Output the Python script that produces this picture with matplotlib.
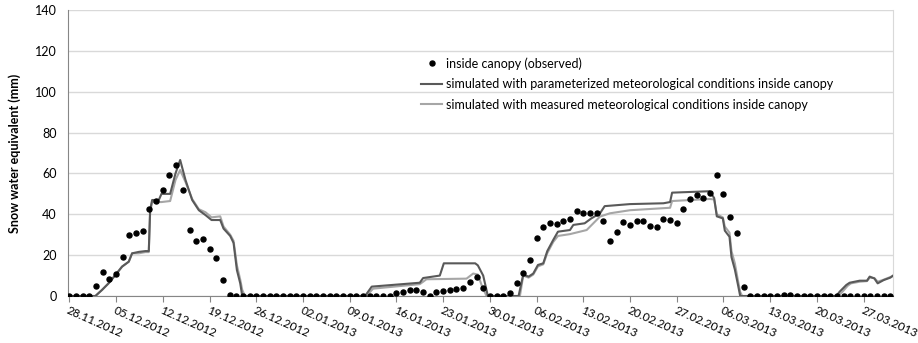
import matplotlib
matplotlib.use("Agg")
import matplotlib.pyplot as plt
import pandas as pd

# daily snow water equivalent inside the canopy, starting 28.11.2012 (mm)
start = pd.Timestamp("2012-11-28")
observed = [0, 0, 0, 0, 4.7, 11.6, 8.3, 10.6, 19.2, 29.9, 31.0, 31.8, 42.4,
            46.7, 51.9, 59.2, 64.3, 51.9, 32.3, 27.1, 27.9, 22.8, 18.4, 7.8, 0.5] \
    + [0] * 24 \
    + [1.3, 2.1, 2.9, 2.9, 2.1, 0.2, 1.8, 2.6, 3.0, 3.6, 4.1, 6.9, 9.1, 3.7] \
    + [0, 0, 0] \
    + [1.6, 6.5, 11.1, 17.8, 28.5, 33.9, 35.7, 35.2, 36.9, 37.5, 41.4, 40.8,
       40.5, 40.5, 36.7, 26.8, 31.5, 36.2, 34.8, 36.7, 36.5, 34.3, 33.8, 37.8,
       37.0, 35.5, 42.4, 47.3, 49.3, 47.8, 50.3, 59.1, 49.9, 38.5, 31.0, 4.6] \
    + [0, 0, 0, 0, 0, 0.5, 0.6] + [0] * 15

# model runs (days since start, SWE in mm)
param_days = [0, 3.9, 4.9, 5.9, 6.9, 7.9, 8.9, 9.4, 10.4, 11.4, 11.9, 12.1, 12.4,
              13.4, 13.8, 15.1, 15.9, 16.6, 17.4, 18.4, 19.4, 20.4, 21.3, 22.6,
              23.1, 24.1, 24.6, 25.1, 25.6, 25.9,
              44.3, 45.3, 52.5, 53.0, 55.5, 56.1, 60.8, 61.2, 62.0, 62.7,
              67.3, 68.0, 68.8, 69.5, 70.2, 71.0, 71.6, 72.5, 73.2, 75.0, 75.5,
              77.2, 78.2, 79.5, 80.2, 84.0, 89.0, 90.0, 90.3, 95.9, 96.6, 97.0,
              97.9, 98.2, 98.9, 99.2, 99.7, 100.2, 100.5,
              114.9, 115.4, 116.4, 116.9, 118.4, 119.5, 119.9, 120.6, 121.1,
              122.0, 123.0, 123.4]
param_swe = [0, 0, 3, 6.3, 10.3, 14.4, 16.8, 20.9, 21.6, 22, 22, 42, 47,
             47, 50, 50, 60, 66.6, 56.8, 47, 42, 39.6, 37.2, 37.2,
             33, 29.4, 26, 12.7, 6.2, 0,
             0, 4.6, 6.5, 8.8, 10, 16, 16, 15, 10, 0,
             0, 10.5, 9.5, 11, 15.2, 16, 22, 27.5, 31.5, 32.3, 34.8,
             35.6, 38, 40.5, 44, 45, 45.4, 46, 50.6, 51.3, 48, 39,
             38, 32, 29, 19, 13, 5, 0,
             0, 2.1, 5.4, 6.5, 7.5, 7.5, 9.5, 8.6, 6.2,
             7.8, 9, 10]

meas_days = [0, 3.9, 4.9, 5.9, 6.9, 7.9, 8.9, 9.4, 10.4, 11.4, 11.9, 12.1, 12.4,
             13.4, 13.8, 15.1, 15.9, 16.6, 17.4, 18.4, 19.4, 20.4, 21.3, 22.6,
             23.1, 24.1, 24.6, 25.1, 25.6, 25.9, 26.3,
             44.5, 45.5, 52.5, 53.5, 59.5, 60.5, 61.2, 61.8, 62.5,
             67.5, 68.0, 68.8, 69.5, 70.2, 71.0, 71.6, 72.5, 73.2, 75.0, 77.5,
             78.5, 79.5, 81.0, 84.0, 89.0, 90.0, 90.3, 95.9, 96.6, 97.0, 97.9,
             98.2, 98.9, 99.2, 99.7, 100.2, 100.5, 100.8,
             115.2, 115.8, 116.6, 117.1, 118.4, 119.5, 119.9, 120.6, 121.1,
             122.0, 123.0, 123.4]
meas_swe = [0, 0, 3, 6.3, 10.3, 14.4, 16.8, 20.9, 20.9, 21.5, 21.5, 41, 46,
            46, 46, 46.5, 56.8, 61.7, 55.8, 47.5, 42.5, 41, 38.5, 39,
            34, 30, 27, 15, 8, 3, 0,
            0, 3.6, 5.8, 8.2, 8.5, 11, 10.5, 5, 0,
            0, 10, 9, 10.5, 14.5, 15.5, 21, 26.5, 29.4, 30.3, 32.3,
            35.6, 38.9, 40.5, 42, 43, 43.2, 46.5, 47.5, 47.3, 40, 38.5,
            34, 31, 22, 16, 7, 2, 0,
            0, 2, 5, 6.2, 7, 7.3, 9, 8.8, 7,
            8, 9.3, 9.8]

tick_dates = pd.date_range(start, "2013-03-27", freq="7D")

plt.rcParams["font.family"] = ["Lato", "DejaVu Sans"]

fig = plt.figure(figsize=(9.18, 3.43), dpi=100)
ax = fig.add_axes([0.0741, 0.137, 0.8987, 0.8337])

obs_days = list(range(len(observed)))
ax.plot(param_days, param_swe, color="#595959", lw=1.5, zorder=3,
        label="simulated with parameterized meteorological conditions inside canopy")
ax.plot(meas_days, meas_swe, color="#a6a6a6", lw=1.5, zorder=2,
        label="simulated with measured meteorological conditions inside canopy")
ax.plot(obs_days, observed, ls="none", marker="o", ms=3.6, color="black",
        zorder=4, label="inside canopy (observed)")

ax.set_xlim(-0.2, 123.4)
ax.set_ylim(0, 140)
ax.set_yticks(range(0, 141, 20))
ax.grid(axis="y", color="#d9d9d9", lw=1)
ax.set_axisbelow(True)

ax.set_xticks([(d - start).days for d in tick_dates])
ax.set_xticklabels([d.strftime("%d.%m.%Y") for d in tick_dates],
                   rotation=-24, ha="left", va="top", rotation_mode="anchor")
ax.tick_params(axis="x", length=4, color="#868686", labelsize=8.5, pad=2)
ax.tick_params(axis="y", length=0, labelsize=9, pad=8)

ax.spines["top"].set_visible(False)
ax.spines["right"].set_color("#d9d9d9")
ax.spines["left"].set_color("#868686")
ax.spines["bottom"].set_color("#868686")

ax.set_ylabel("Snow water equivalent (mm)", fontsize=9, fontweight="bold",
              labelpad=10)

handles, labels = ax.get_legend_handles_labels()
order = [2, 0, 1]
ax.legend([handles[i] for i in order], [labels[i] for i in order],
          loc="upper left", bbox_to_anchor=(416 / 918, 1 - 52 / 343),
          bbox_transform=fig.transFigure, frameon=False, fontsize=9,
          handlelength=1.7, handletextpad=0.3, labelspacing=0.68,
          borderaxespad=0)

fig.savefig("out.png", dpi=100)
